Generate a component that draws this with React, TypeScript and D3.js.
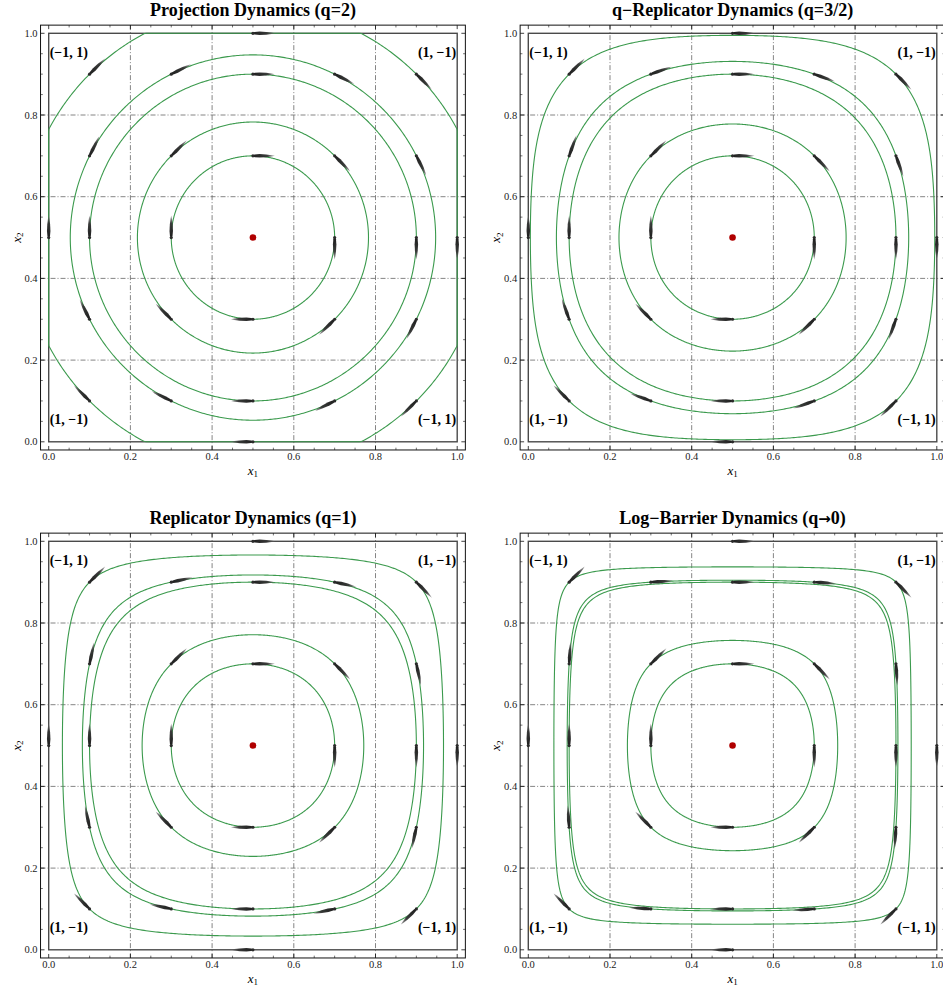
import React from "react";
import * as d3 from "d3";

// ---------- data ----------
const panelTitleParts: string[][] = [
  ["Projection Dynamics (q=2)"],
  ["q\u2212Replicator Dynamics (q=3/2)"],
  ["Replicator Dynamics (q=1)"],
  ["Log\u2212Barrier Dynamics (q", "\u2192", "0)"],
];
// q parameter of each panel (q→0 taken as 0)
const panelQ = [2, 1.5, 1, 0];

// seed points of the stream arrows
const arrowSeeds: [number, number][] = [
  [0.1, 0.9], [0.3, 0.9], [0.5, 0.9], [0.7, 0.9], [0.9, 0.9],
  [0.1, 0.7], [0.3, 0.7], [0.5, 0.7], [0.7, 0.7], [0.9, 0.7],
  [0.1, 0.5], [0.3, 0.5], [0.7, 0.5], [0.9, 0.5],
  [0.1, 0.3], [0.3, 0.3], [0.5, 0.3], [0.7, 0.3], [0.9, 0.3],
  [0.1, 0.1], [0.3, 0.1], [0.5, 0.1], [0.7, 0.1], [0.9, 0.1],
  [0.5, 1.0], [0.5, 0.0], [0.0, 0.5], [1.0, 0.5],
];
// one seed per distinct closed orbit
const orbitSeeds: [number, number][] = [
  [0.5, 0.7], [0.3, 0.7], [0.5, 0.9], [0.3, 0.9], [0.1, 0.9],
];
const equilibrium: [number, number] = [0.5, 0.5];
const cornerLabels = [
  { x: 0, y: 1, text: "(\u22121, 1)" },
  { x: 1, y: 1, text: "(1, \u22121)" },
  { x: 0, y: 0, text: "(1, \u22121)" },
  { x: 1, y: 0, text: "(\u22121, 1)" },
];
const majorTicks = [0, 0.2, 0.4, 0.6, 0.8, 1.0];
const majorTickLabels = ["0.0", "0.2", "0.4", "0.6", "0.8", "1.0"];
const minorTicks = [0.05, 0.1, 0.15, 0.25, 0.3, 0.35, 0.45, 0.5, 0.55, 0.65, 0.7, 0.75, 0.85, 0.9, 0.95];
const gridValues = [0.2, 0.4, 0.6, 0.8];

// ---------- layout ----------
const W = 943;
const H = 994;
const S = 408.5;
const colX0 = [48.7, 528.3];
const rowY1 = [33.3, 541.3];
const PAD = 0.02;
const GREEN = "#3b9a4d";
const SERIF = "'Liberation Serif', 'Times New Roman', 'DejaVu Serif', serif";

// ---------- dynamics (matching pennies, q-replicator family) ----------
function A(s: number, r: number) {
  if (r === 1) return 2 * s - Math.log(s);
  if (r === 2) return 2 * Math.log(s) + 1 / s;
  return (2 * Math.pow(s, 2 - r)) / (2 - r) - Math.pow(s, 1 - r) / (1 - r);
}
function G(s: number, r: number) {
  return A(s, r) + A(1 - s, r) - 2 * A(0.5, r);
}
function rate(s: number, r: number) {
  const a = Math.pow(s, r), b = Math.pow(1 - s, r);
  return (a * b) / (a + b);
}
function field(x1: number, x2: number, r: number): [number, number] {
  return [rate(x1, r) * 2 * (2 * x2 - 1), rate(x2, r) * 2 * (1 - 2 * x1)];
}
function orbit(seed: [number, number], r: number): [number, number][] {
  const level = G(seed[0], r) + G(seed[1], r);
  const pts: [number, number][] = [];
  const N = 720;
  for (let k = 0; k < N; k++) {
    const th = (2 * Math.PI * k) / N;
    const c = Math.cos(th), sn = Math.sin(th);
    const rmax = 0.5 / Math.max(Math.abs(c), Math.abs(sn));
    const f = (rho: number) => G(0.5 + rho * c, r) + G(0.5 + rho * sn, r);
    let rho: number;
    const fm = f(rmax * (1 - 1e-12));
    if (!(fm > level)) rho = rmax;
    else {
      let lo = 0, hi = rmax * (1 - 1e-12);
      for (let i = 0; i < 60; i++) {
        const mid = (lo + hi) / 2;
        if (f(mid) < level) lo = mid; else hi = mid;
      }
      rho = (lo + hi) / 2;
    }
    pts.push([0.5 + rho * c, 0.5 + rho * sn]);
  }
  return pts;
}

function Panel({ idx }: { idx: number }) {
  const col = idx % 2, row = Math.floor(idx / 2);
  const r = 2 - panelQ[idx];
  const x = d3.scaleLinear().domain([0, 1]).range([colX0[col], colX0[col] + S]);
  const y = d3.scaleLinear().domain([0, 1]).range([rowY1[row] + S, rowY1[row]]);
  const fx0 = x(-PAD), fx1 = x(1 + PAD), fy0 = y(-PAD), fy1 = y(1 + PAD);
  const line = d3
    .line<[number, number]>()
    .x((d) => x(d[0]))
    .y((d) => y(d[1]))
    .curve(d3.curveLinearClosed);
  const arrowLen = 22;
  const profile = [
    [0, 0.5], [0.08, 1.3], [0.3, 1.75], [0.6, 1.4], [0.85, 0.7], [1, 0],
  ];
  const parts = panelTitleParts[idx];

  return (
    <g>
      <text x={(x(0) + x(1)) / 2} y={rowY1[row] - 17} textAnchor="middle" fontFamily={SERIF} fontWeight="bold" fontSize={18}>
        {parts.length === 1 ? (
          parts[0]
        ) : (
          <>
            <tspan>{parts[0]}</tspan>
            <tspan fontFamily="'DejaVu Sans', sans-serif" fontWeight="bold" fontSize={15}>{parts[1]}</tspan>
            <tspan>{parts[2]}</tspan>
          </>
        )}
      </text>
      {/* grid */}
      {gridValues.map((g) => (
        <g key={"g" + g}>
          <line x1={x(g)} x2={x(g)} y1={fy1} y2={fy0} stroke="#666" strokeWidth={0.8} strokeDasharray="5,2,1,2" />
          <line x1={fx0} x2={fx1} y1={y(g)} y2={y(g)} stroke="#666" strokeWidth={0.8} strokeDasharray="5,2,1,2" />
        </g>
      ))}
      {/* simplex box */}
      <rect x={x(0)} y={y(1)} width={x(1) - x(0)} height={y(0) - y(1)} fill="none" stroke="#4a4a4a" strokeWidth={1.4} />
      {/* orbits */}
      {orbitSeeds.map((s, i) => (
        <path key={"o" + i} d={line(orbit(s, r)) || ""} fill="none" stroke={GREEN} strokeWidth={1.1} />
      ))}
      {/* arrows */}
      <defs>
        {arrowSeeds.map((s, i) => {
          const [dx, dy] = field(s[0], s[1], r);
          const n = Math.hypot(dx, dy) || 1;
          const ux = dx / n, uy = -dy / n;
          const sx = x(s[0]), sy = y(s[1]);
          return (
            <linearGradient key={i} id={`ag${idx}-${i}`} gradientUnits="userSpaceOnUse" x1={sx} y1={sy} x2={sx + ux * arrowLen} y2={sy + uy * arrowLen}>
              <stop offset="0" stopColor="#1e1e1e" stopOpacity={1} />
              <stop offset="0.65" stopColor="#333" stopOpacity={0.95} />
              <stop offset="1" stopColor="#666" stopOpacity={0.55} />
            </linearGradient>
          );
        })}
      </defs>
      {arrowSeeds.map((s, i) => {
        const [dx, dy] = field(s[0], s[1], r);
        const n = Math.hypot(dx, dy) || 1;
        const ux = dx / n, uy = -dy / n;
        const nx = -uy, ny = ux;
        const sx = x(s[0]), sy = y(s[1]);
        const side1 = profile.map(([t, w]) => [sx + ux * t * arrowLen + nx * w, sy + uy * t * arrowLen + ny * w]);
        const side2 = profile
          .slice()
          .reverse()
          .map(([t, w]) => [sx + ux * t * arrowLen - nx * w, sy + uy * t * arrowLen - ny * w]);
        const pts = side1.concat(side2);
        const d = "M" + pts.map((p) => p[0].toFixed(2) + "," + p[1].toFixed(2)).join("L") + "Z";
        return (
          <g key={"a" + i}>
            <path d={d} fill={`url(#ag${idx}-${i})`} />
            <circle cx={sx} cy={sy} r={1.6} fill="#2a2a2a" />
          </g>
        );
      })}
      <circle cx={x(equilibrium[0])} cy={y(equilibrium[1])} r={3.3} fill="#b00000" />
      {/* corner labels */}
      {cornerLabels.map((c, i) => (
        <text
          key={"c" + i}
          x={c.x === 0 ? x(0) + 1 : x(1) - 1}
          y={c.y === 1 ? y(1) + 23.5 : y(0) - 17.5}
          textAnchor={c.x === 0 ? "start" : "end"}
          fontFamily={SERIF}
          fontWeight="bold"
          fontSize={14}
        >
          {c.text}
        </text>
      ))}
      {/* frame */}
      <rect x={fx0} y={fy1} width={fx1 - fx0} height={fy0 - fy1} fill="none" stroke="#111" strokeWidth={1} />
      {majorTicks.map((t) => (
        <g key={"t" + t} stroke="#111" strokeWidth={0.8}>
          <line x1={x(t)} x2={x(t)} y1={fy0} y2={fy0 - 4} />
          <line x1={x(t)} x2={x(t)} y1={fy1} y2={fy1 + 4} />
          <line x1={fx0} x2={fx0 + 4} y1={y(t)} y2={y(t)} />
          <line x1={fx1} x2={fx1 - 4} y1={y(t)} y2={y(t)} />
        </g>
      ))}
      {minorTicks.map((t) => (
        <g key={"m" + t} stroke="#111" strokeWidth={0.6}>
          <line x1={x(t)} x2={x(t)} y1={fy0} y2={fy0 - 2.3} />
          <line x1={x(t)} x2={x(t)} y1={fy1} y2={fy1 + 2.3} />
          <line x1={fx0} x2={fx0 + 2.3} y1={y(t)} y2={y(t)} />
          <line x1={fx1} x2={fx1 - 2.3} y1={y(t)} y2={y(t)} />
        </g>
      ))}
      {majorTicks.map((t, i) => (
        <g key={"l" + t} fontFamily={SERIF} fontSize={10.5} fill="#222">
          <text x={x(t)} y={fy0 + 10} textAnchor="middle">{majorTickLabels[i]}</text>
          <text x={fx0 - 3} y={y(t) + 3.5} textAnchor="end">{majorTickLabels[i]}</text>
        </g>
      ))}
      <text x={(x(0) + x(1)) / 2} y={fy0 + 25} textAnchor="middle" fontFamily={SERIF} fontSize={13}>
        <tspan fontStyle="italic">x</tspan>
        <tspan fontSize={9} dy={2.5}>1</tspan>
      </text>
      <text
        transform={`translate(${fx0 - 20},${(y(0) + y(1)) / 2}) rotate(-90)`}
        textAnchor="middle"
        fontFamily={SERIF}
        fontSize={13}
      >
        <tspan fontStyle="italic">x</tspan>
        <tspan fontSize={9} dy={2.5}>2</tspan>
      </text>
    </g>
  );
}

export default function App() {
  return (
    <svg width={W} height={H} viewBox={`0 0 ${W} ${H}`} style={{ position: "absolute", left: 0, top: 0, background: "#fff" }}>
      <rect width={W} height={H} fill="#fff" />
      {[0, 1, 2, 3].map((i) => (
        <Panel key={i} idx={i} />
      ))}
    </svg>
  );
}
